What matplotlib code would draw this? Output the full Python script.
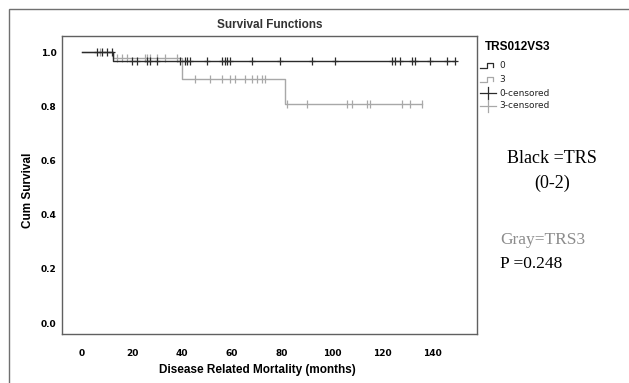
import matplotlib
matplotlib.use('Agg')
import matplotlib.pyplot as plt
from matplotlib.lines import Line2D
from matplotlib.patches import Rectangle

W, H = 629, 383

# step data (time, survival after the event)
black_times = [0, 12.5]
black_surv = [1.0, 0.968]
black_end = 149
black_cens = [6, 8, 10, 12, 20, 22, 26, 27, 30, 39, 41, 42, 43, 50, 56, 57, 58,
              59, 68, 79, 92, 101, 124, 125, 127, 132, 133, 139, 146, 149]

gray_times = [0, 12.5, 40, 81]
gray_surv = [1.0, 0.979, 0.90, 0.81]
gray_end = 136
gray_cens = [7, 14, 16, 18, 25, 26, 27, 30, 33, 38, 45, 51, 56, 59, 61, 65, 68,
             70, 72, 73, 82, 90, 106, 108, 114, 115, 128, 131, 136]

xticks = [0, 20, 40, 60, 80, 100, 120, 140]
yticks = [0.0, 0.2, 0.4, 0.6, 0.8, 1.0]

BLACK = '#2b2b2b'
GRAY = '#a8a8a8'


def surv_at(times, surv, t):
    s = surv[0]
    for tt, ss in zip(times, surv):
        if t >= tt:
            s = ss
    return s


def px(x, y):  # pixel coords -> figure fraction
    return x / W, 1 - y / H


fig = plt.figure(figsize=(W / 100, H / 100), dpi=100)
fig.patches.append(Rectangle(px(9, 400), 700 / W, 391 / H, transform=fig.transFigure,
                             fill=False, edgecolor='#707070', linewidth=1.0))

l, b = px(62, 334)
ax = fig.add_axes([l, b, (477 - 62) / W, (334 - 36) / H])

for times, surv, end, cens, col, z in [(gray_times, gray_surv, gray_end, gray_cens, GRAY, 2),
                                       (black_times, black_surv, black_end, black_cens, BLACK, 3)]:
    ax.step(times + [end], surv + [surv[-1]], where='post', color=col, lw=1.0, zorder=z)
    ax.plot(cens, [surv_at(times, surv, t) for t in cens], linestyle='none', marker='|',
            markersize=6, markeredgewidth=0.9, color=col, zorder=z)
    if col == BLACK:
        ax.plot(cens, [surv_at(times, surv, t) for t in cens], linestyle='none', marker='_',
                markersize=4, markeredgewidth=0.9, color=col, zorder=z)

ax.set_xlim(-8, 158)
ax.set_ylim(-0.04, 1.06)
ax.set_xticks(xticks)
ax.set_xticklabels([str(v) for v in xticks])
ax.set_yticks(yticks)
ax.set_yticklabels(['%.1f' % v for v in yticks])
ax.tick_params(length=0, labelsize=6.5)
ax.tick_params(axis='x', pad=10.5)
ax.tick_params(axis='y', pad=4)
for lab in ax.get_xticklabels() + ax.get_yticklabels():
    lab.set_fontweight('bold')
    lab.set_fontfamily('DejaVu Sans')
for sp in ax.spines.values():
    sp.set_color('#606060')
    sp.set_linewidth(1.0)

fig.text(*px(28, 190), 'Cum Survival', rotation=90, ha='center', va='center', fontsize=8.5,
         fontweight='bold', family='Liberation Sans')
fig.text(*px(257, 370), 'Disease Related Mortality (months)', ha='center', va='center',
         fontsize=8.5, fontweight='bold', family='Liberation Sans')
fig.text(*px(270, 25), 'Survival Functions', ha='center', va='center', fontsize=8.5,
         fontweight='bold', family='Liberation Sans', color='#333333')

# legend drawn by hand
fig.text(*px(485, 47), 'TRS012VS3', ha='left', va='center', fontsize=8.5, fontweight='bold',
         family='Liberation Sans')
for yy, col in [(66, BLACK), (80, GRAY)]:
    xs = [480, 487, 487, 493, 493]
    ys = [yy + 2, yy + 2, yy - 3, yy - 3, yy + 1]
    fig.add_artist(Line2D([x / W for x in xs], [1 - y / H for y in ys], color=col, lw=0.9,
                          transform=fig.transFigure))
for yy, col in [(93, BLACK), (106, GRAY)]:
    fig.add_artist(Line2D([480 / W, 496 / W], [1 - yy / H] * 2, color=col, lw=0.9,
                          transform=fig.transFigure))
    fig.add_artist(Line2D([488 / W] * 2, [1 - (yy - 6) / H, 1 - (yy + 6) / H], color=col, lw=0.9,
                          transform=fig.transFigure))
for yy, txt in [(66, '0'), (80, '3'), (93, '0-censored'), (106, '3-censored')]:
    fig.text(*px(499, yy), txt, ha='left', va='center', fontsize=6.5, family='DejaVu Sans',
             color='#222222')

# annotation text
fig.text(*px(552, 158), 'Black =TRS', ha='center', va='center', fontsize=13,
         family='Liberation Serif')
fig.text(*px(552, 183), '(0-2)', ha='center', va='center', fontsize=13,
         family='Liberation Serif')
fig.text(*px(500, 240), 'Gray=TRS3', ha='left', va='center', fontsize=12.5,
         family='Liberation Serif', color='#8c8c8c')
fig.text(*px(500, 264), 'P =0.248', ha='left', va='center', fontsize=12.5,
         family='Liberation Serif')

fig.savefig('out.png', dpi=100)
